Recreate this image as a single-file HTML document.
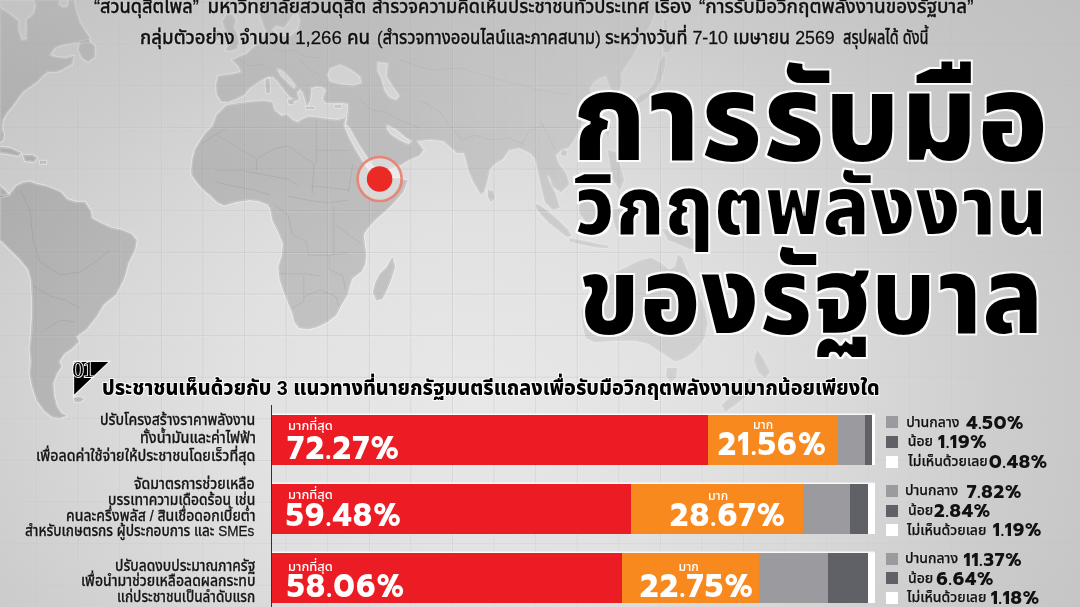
<!DOCTYPE html>
<html lang="th"><head><meta charset="utf-8">
<style>
*{margin:0;padding:0;box-sizing:border-box}
html,body{width:1080px;height:607px;overflow:hidden}
body{position:relative;background:#d8d8d8;font-family:"Noto Sans Thai","Liberation Sans",sans-serif;color:#111}
#bg{position:absolute;left:0;top:0;width:1080px;height:607px;background:radial-gradient(ellipse 700px 520px at 480px 400px,#e8e8e8 0%,#e1e1e1 35%,#d8d8d8 55%,#cdcdcd 75%,#c5c5c5 95%,#c0c0c0 115%)}
svg.map{position:absolute;left:0;top:0}
.abs{position:absolute;white-space:nowrap;line-height:1}
.sx{display:inline-block;transform-origin:0 0}
.top{color:#111;-webkit-text-stroke:0.35px #111;text-shadow:0 0 2px rgba(255,255,255,.75)}
.title{font-weight:900;color:#000;filter:url(#ttl)}
.head{font-weight:800;color:#000;-webkit-text-stroke:2px rgba(255,255,255,.9);paint-order:stroke fill}
.lbl{color:#151515;-webkit-text-stroke:0.3px #151515;text-shadow:0 0 2px rgba(255,255,255,.75)}
.bar{position:absolute;left:272px;width:602.8px;height:50px;display:flex;box-shadow:0 -1.5px 0 rgba(255,255,255,.8)}
.bar div{height:100%;flex:none}
.r{background:#ec1c24}.o{background:#f7891f}.g1{background:#9b9b9f}.g2{background:#5f6166}.w{background:#fff}
.bt{color:#fff}
.num{font-family:"Prompt","Kanit",sans-serif;font-weight:600;color:#fff;letter-spacing:1.8px}
.sq{position:absolute;left:885.7px;width:12px;height:12px}
.lg{color:#111;-webkit-text-stroke:0.25px #111;text-shadow:0 0 2px rgba(255,255,255,.6)}
.lv{font-family:"Prompt","Kanit",sans-serif;font-weight:600;color:#111;letter-spacing:.75px}
</style></head><body>
<div id="bg"></div>
<svg class="map" width="1080" height="607" viewBox="0 0 1080 607">
<defs>
<linearGradient id="fadeg" x1="0" y1="0" x2="0" y2="607" gradientUnits="userSpaceOnUse">
<stop offset="0" stop-color="#fff" stop-opacity="0.45"/>
<stop offset="0.28" stop-color="#fff" stop-opacity="1"/>
</linearGradient>
<mask id="fade" maskUnits="userSpaceOnUse" x="0" y="0" width="1080" height="607"><rect x="0" y="0" width="1080" height="607" fill="url(#fadeg)"/></mask>
<linearGradient id="fadeh" x1="0" y1="0" x2="1080" y2="0" gradientUnits="userSpaceOnUse">
<stop offset="0.355" stop-color="#fff" stop-opacity="1"/>
<stop offset="0.435" stop-color="#fff" stop-opacity="0.78"/>
<stop offset="0.555" stop-color="#fff" stop-opacity="0.56"/>
<stop offset="0.74" stop-color="#fff" stop-opacity="0.5"/>
</linearGradient>
<mask id="fadeH" maskUnits="userSpaceOnUse" x="0" y="0" width="1080" height="607"><rect x="0" y="0" width="1080" height="607" fill="url(#fadeh)"/></mask>
<radialGradient id="gridg" cx="450" cy="330" r="540" gradientUnits="userSpaceOnUse" gradientTransform="translate(450 330) scale(1 0.8) translate(-450 -330)">
<stop offset="0.3" stop-color="#fff" stop-opacity="1"/>
<stop offset="0.7" stop-color="#fff" stop-opacity="0.5"/>
<stop offset="1" stop-color="#fff" stop-opacity="0.15"/>
</radialGradient>
<mask id="gridm" maskUnits="userSpaceOnUse" x="0" y="0" width="1080" height="607"><rect x="0" y="0" width="1080" height="607" fill="url(#gridg)"/></mask>
</defs>
<g mask="url(#fade)"><g mask="url(#fadeH)">
<g fill="none" stroke="#fff" stroke-opacity="0.45" stroke-width="2.4" stroke-linejoin="round"><path d="M74,398 L80,397 L84,399 L80,402 L75,401.5Z"/><path d="M662,44 L668,40 L674,44 L670,52 L664,52Z"/><path d="M664,20 L667,20 L668,35 L665,36Z"/><path d="M266,79 L269,79 L270,86 L269.5,93 L266.5,93 L265.5,86Z"/><path d="M288,100 L295,99 L293,104 L289,104Z"/><path d="M306,107 L314,107 L314,108.8 L306,108.8Z"/><path d="M335,105.5 L341,105 L340.5,107.5 L335,107.5Z"/><path d="M0,0 L74,0 L76,10 L80,22 L86,32 L90,38 L89,42 L75,43 L62,45 L55,48 L50,55 L56,57 L65,58 L74,56 L72,64 L62,70 L56,72 L48,72 L43,76 L37,82 L30,87 L23,92 L18,99 L13,106 L7,113 L3,120 L2,128 L4,135 L3,140 L0,142ZM0,0 L34.6,0 L35.8,6.9 L33.4,13.8 L26.5,19.6 L26.5,39 L22,40 L18.5,30 L18.5,20.8 L14,17.3 L7,11.5 L0,8ZM58.8,0 L69.2,0 L67,6.9 L62,7 L59,4Z"/><path d="M80,42 L88,40 L95,46 L95,57 L88,62 L82,58 L78,50Z"/><path d="M0,147 L10,148 L21,153 L18,156 L8,154 L0,153Z"/><path d="M23,155 L33,155 L37,158 L34,162 L25,161Z"/><path d="M40,161 L46,161 L46,163.5 L40,163.5Z"/><path d="M0,186 L5,190 L9,195 L0,197Z"/><path d="M0,196 L9,195 L16,186 L23,182.6 L30,181.5 L37,184 L46,186 L55,189.5 L61,192 L67,199 L76,202 L85,202 L91,211 L92,218 L101,223 L111,227.6 L122,230 L131.7,234 L136.6,240 L135,250 L128.4,263 L125,276 L123.5,280 L116,294.8 L103.7,304.7 L96.3,317 L86.4,329.4 L76.5,336.8 L79,341.7 L71.6,349.1 L64.2,354.1 L59.3,361.5 L61.7,366.4 L56.8,373.8 L53.1,383.7 L54.3,396 L56.8,405.9 L61.7,413.3 L66.7,415.8 L59.3,418.3 L51.9,417 L44.4,410.9 L37,401 L32.1,386.2 L29.6,373.8 L30.9,361.5 L29.6,349.1 L30.9,336.8 L32.1,317 L32.1,299.8 L30.9,280 L28,269.5 L19.8,259.6 L9.9,249.8 L3.3,243.2 L0,240Z"/><path d="M255,0 L258,10 L262,22 L266,32 L262,38 L258,44 L252,48 L246,54 L238,57 L232,60 L238,66 L241,72 L232,74 L218,76 L216,85 L217,95 L221,101.5 L228,102 L236,99 L244,95 L250,88 L256,84 L262,80 L268,77 L273,77 L278,82 L284,90 L290,97 L296,101 L299,99 L297,93 L300,89 L303,93 L305,99 L307,106 L310,101 L311,94 L311,88 L316,86.5 L322,87 L326,90 L324,95 L323,100 L326,103 L336,103 L344,103 L348,104 L348,110 L347,120 L346,124 L350,128 L356,139 L362,149 L368,158 L373,166 L378,170 L390,169 L401,165 L409,160 L419.6,155.4 L423.6,150 L417,141 L430,139.6 L443,141 L450,147 L457,153 L464,153 L466,160 L469,172 L474,183 L480.8,194.6 L484,192 L487,182 L489.7,169.3 L496,163 L503,159 L509,150 L519,148 L529.5,152.8 L534.8,158 L537.4,168.6 L540.1,181.8 L542.7,192.3 L545.3,202.8 L553,210 L559.6,207.6 L555.6,193.7 L549.7,181.9 L547,176 L549.3,176.5 L553.2,187 L561.1,192.3 L569.1,184.4 L566.4,173.8 L558.5,163.3 L555.9,155.4 L561.1,150.1 L569.1,147.5 L574.3,139.6 L579.6,129.1 L583.5,118.5 L587.5,102.7 L592,95 L590,88 L594,82 L600,78 L606,76 L608,82 L610,88 L614,92 L620,90 L622,82 L621,74 L626,66 L632,58 L636,50 L640,42 L645,34 L650,26 L654,16 L658,8 L662,0ZM330,68.4 L340.5,64.5 L351.1,69.8 L360.3,76.4 L361.6,82.9 L353.7,85.6 L340.5,84.3 L330,81.6 L327,75ZM377.4,61.9 L388,63.2 L386.7,76.4 L393.3,86.9 L399.8,96.1 L395.9,100.1 L389.3,97.4 L384,89.5 L381.4,79 L377.4,71.1ZM386.7,125.1 L395.9,129.1 L405.1,137 L412,141 L409,144 L406.4,143.6 L398.5,139.6 L390.6,134.3 L386.7,129.1ZM272,30 L280,36 L290,36 L298,30 L300,20 L296,10 L290,20 L284,28 L276,26ZM277,69 L282,70 L290,78 L296,86 L294,88.5 L287,82 L280,75Z"/><path d="M226,15 L232,14 L236,20 L234,27 L237,33 L239,42 L237,49 L230,51 L225,50 L229,44 L228,36 L225,29 L222,22Z"/><path d="M214,31 L220,30 L221,38 L215,41 L213,36Z"/><path d="M226,105.4 L239.9,103.1 L249.2,102 L263,100.7 L272.2,102 L274.5,110 L281.4,115.7 L287,114.5 L292.3,119.6 L297.3,122.2 L303,118.8 L308.8,116.5 L318,117.6 L326.1,118.8 L337.6,120 L345.7,117.6 L348,113 L345.5,118 L344,126 L349,138 L355,149 L361,159 L367,168 L373,174 L380,177 L390,178 L399,178 L407.5,180.7 L403,192.2 L393.7,203 L384.5,212 L375.3,220 L368,228 L364,234 L363.7,237 L364.9,246.1 L366.1,255.3 L364.9,264.6 L361.4,271.5 L352.2,278.4 L349.9,285.3 L347.6,294.5 L340.7,306.1 L336.1,315.3 L326.9,322.2 L317.6,326.8 L308.4,329.1 L299.2,328 L294.6,322.2 L292.3,313 L287.7,301.4 L283.1,289.9 L279.6,278.4 L278.4,266.9 L281.9,255.3 L283.1,243.8 L278.4,232.3 L272.7,220.7 L270.4,209.2 L267.6,204.5 L258.4,201 L249.2,199.9 L235.3,202.2 L223.8,205.6 L216.9,202.2 L210,195.3 L201.9,188.4 L196.1,181.4 L191.5,174.5 L191.5,167.6 L192.7,158.4 L195,149.2 L200.7,139.9 L205.4,133 L212.3,126.1 L216.9,114.6Z"/><path d="M392.6,257.6 L394.9,266.9 L391.4,278.4 L386.8,289.9 L382.2,299.1 L376.4,300.3 L373,292.2 L375.3,283 L379.9,273.8 L386.8,266.9 L391.4,258.8Z"/><path d="M536.8,203.6 L545.7,209.6 L557.6,219.4 L567.5,229.3 L571.4,235.3 L567.5,237.2 L559.6,231.3 L549.7,223.4 L541.8,215.5 L535.8,207.6Z"/><path d="M569.4,238.2 L585.3,241.2 L599.1,244.2 L609,246.1 L607,248.1 L595.2,247.1 L581.3,244.2 L569.4,241.2Z"/><path d="M579.3,197.7 L591.2,191.8 L603.1,187.8 L607,201.6 L605,215.5 L599.1,225.4 L587.2,223.4 L579.3,213.5Z"/><path d="M612,210 L625,208 L618,216 L624,226 L618,234 L614,222Z"/><path d="M662,229 L675,230 L688,236 L700,242 L700,250 L690,249 L678,244 L668,240Z"/><path d="M608,150 L616,152 L620,165 L624,180 L620,190 L612,178 L610,165Z"/><path d="M604.6,120 L608,116 L611,125 L608,137 L604,130Z"/><path d="M488,190 L493,191 L495,198 L491,202 L488,197Z"/><path d="M635,100 L640,95 L647,92 L652,86 L656,78 L658,68 L660,60 L664,55 L666,60 L664,70 L661,80 L657,88 L650,96 L642,102 L637,105Z"/><path d="M562,150 L567,151 L566,156 L561,155Z"/><path d="M621.5,269.6 L639.3,260.8 L651.2,257.8 L660,262.2 L668.9,269.6 L674.9,266.7 L677.8,254.8 L682.3,257.8 L686.7,269.6 L692.7,281.5 L698.6,293.4 L704.5,308.2 L707.5,323 L704.5,337.8 L698.6,346.7 L692.7,352.7 L683.8,358.6 L674.9,361.6 L666,355.6 L657.1,349.7 L648.2,343.8 L636.3,340.8 L624.5,340.8 L609.6,340.8 L594.8,342.3 L585.9,337.8 L583,326 L581.5,311.2 L585.9,299.3 L597.8,284.5 L609.6,275.6Z"/><path d="M667,368 L677,368 L676,378 L670,382 L666,375Z"/><path d="M757,350 L763,358 L770,372 L765,378 L758,372 L754,360Z"/><path d="M750,378 L757,385 L748,395 L735,405 L725,412 L722,405 L732,395 L742,385Z"/></g>
<g fill="#000" fill-opacity="0.145" fill-rule="evenodd" stroke="#000" stroke-opacity="0.1" stroke-width="0.7" stroke-linejoin="round"><path d="M74,398 L80,397 L84,399 L80,402 L75,401.5Z"/><path d="M662,44 L668,40 L674,44 L670,52 L664,52Z"/><path d="M664,20 L667,20 L668,35 L665,36Z"/><path d="M266,79 L269,79 L270,86 L269.5,93 L266.5,93 L265.5,86Z"/><path d="M288,100 L295,99 L293,104 L289,104Z"/><path d="M306,107 L314,107 L314,108.8 L306,108.8Z"/><path d="M335,105.5 L341,105 L340.5,107.5 L335,107.5Z"/><path d="M0,0 L74,0 L76,10 L80,22 L86,32 L90,38 L89,42 L75,43 L62,45 L55,48 L50,55 L56,57 L65,58 L74,56 L72,64 L62,70 L56,72 L48,72 L43,76 L37,82 L30,87 L23,92 L18,99 L13,106 L7,113 L3,120 L2,128 L4,135 L3,140 L0,142ZM0,0 L34.6,0 L35.8,6.9 L33.4,13.8 L26.5,19.6 L26.5,39 L22,40 L18.5,30 L18.5,20.8 L14,17.3 L7,11.5 L0,8ZM58.8,0 L69.2,0 L67,6.9 L62,7 L59,4Z"/><path d="M80,42 L88,40 L95,46 L95,57 L88,62 L82,58 L78,50Z"/><path d="M0,147 L10,148 L21,153 L18,156 L8,154 L0,153Z"/><path d="M23,155 L33,155 L37,158 L34,162 L25,161Z"/><path d="M40,161 L46,161 L46,163.5 L40,163.5Z"/><path d="M0,186 L5,190 L9,195 L0,197Z"/><path d="M0,196 L9,195 L16,186 L23,182.6 L30,181.5 L37,184 L46,186 L55,189.5 L61,192 L67,199 L76,202 L85,202 L91,211 L92,218 L101,223 L111,227.6 L122,230 L131.7,234 L136.6,240 L135,250 L128.4,263 L125,276 L123.5,280 L116,294.8 L103.7,304.7 L96.3,317 L86.4,329.4 L76.5,336.8 L79,341.7 L71.6,349.1 L64.2,354.1 L59.3,361.5 L61.7,366.4 L56.8,373.8 L53.1,383.7 L54.3,396 L56.8,405.9 L61.7,413.3 L66.7,415.8 L59.3,418.3 L51.9,417 L44.4,410.9 L37,401 L32.1,386.2 L29.6,373.8 L30.9,361.5 L29.6,349.1 L30.9,336.8 L32.1,317 L32.1,299.8 L30.9,280 L28,269.5 L19.8,259.6 L9.9,249.8 L3.3,243.2 L0,240Z"/><path d="M255,0 L258,10 L262,22 L266,32 L262,38 L258,44 L252,48 L246,54 L238,57 L232,60 L238,66 L241,72 L232,74 L218,76 L216,85 L217,95 L221,101.5 L228,102 L236,99 L244,95 L250,88 L256,84 L262,80 L268,77 L273,77 L278,82 L284,90 L290,97 L296,101 L299,99 L297,93 L300,89 L303,93 L305,99 L307,106 L310,101 L311,94 L311,88 L316,86.5 L322,87 L326,90 L324,95 L323,100 L326,103 L336,103 L344,103 L348,104 L348,110 L347,120 L346,124 L350,128 L356,139 L362,149 L368,158 L373,166 L378,170 L390,169 L401,165 L409,160 L419.6,155.4 L423.6,150 L417,141 L430,139.6 L443,141 L450,147 L457,153 L464,153 L466,160 L469,172 L474,183 L480.8,194.6 L484,192 L487,182 L489.7,169.3 L496,163 L503,159 L509,150 L519,148 L529.5,152.8 L534.8,158 L537.4,168.6 L540.1,181.8 L542.7,192.3 L545.3,202.8 L553,210 L559.6,207.6 L555.6,193.7 L549.7,181.9 L547,176 L549.3,176.5 L553.2,187 L561.1,192.3 L569.1,184.4 L566.4,173.8 L558.5,163.3 L555.9,155.4 L561.1,150.1 L569.1,147.5 L574.3,139.6 L579.6,129.1 L583.5,118.5 L587.5,102.7 L592,95 L590,88 L594,82 L600,78 L606,76 L608,82 L610,88 L614,92 L620,90 L622,82 L621,74 L626,66 L632,58 L636,50 L640,42 L645,34 L650,26 L654,16 L658,8 L662,0ZM330,68.4 L340.5,64.5 L351.1,69.8 L360.3,76.4 L361.6,82.9 L353.7,85.6 L340.5,84.3 L330,81.6 L327,75ZM377.4,61.9 L388,63.2 L386.7,76.4 L393.3,86.9 L399.8,96.1 L395.9,100.1 L389.3,97.4 L384,89.5 L381.4,79 L377.4,71.1ZM386.7,125.1 L395.9,129.1 L405.1,137 L412,141 L409,144 L406.4,143.6 L398.5,139.6 L390.6,134.3 L386.7,129.1ZM272,30 L280,36 L290,36 L298,30 L300,20 L296,10 L290,20 L284,28 L276,26ZM277,69 L282,70 L290,78 L296,86 L294,88.5 L287,82 L280,75Z"/><path d="M226,15 L232,14 L236,20 L234,27 L237,33 L239,42 L237,49 L230,51 L225,50 L229,44 L228,36 L225,29 L222,22Z"/><path d="M214,31 L220,30 L221,38 L215,41 L213,36Z"/><path d="M226,105.4 L239.9,103.1 L249.2,102 L263,100.7 L272.2,102 L274.5,110 L281.4,115.7 L287,114.5 L292.3,119.6 L297.3,122.2 L303,118.8 L308.8,116.5 L318,117.6 L326.1,118.8 L337.6,120 L345.7,117.6 L348,113 L345.5,118 L344,126 L349,138 L355,149 L361,159 L367,168 L373,174 L380,177 L390,178 L399,178 L407.5,180.7 L403,192.2 L393.7,203 L384.5,212 L375.3,220 L368,228 L364,234 L363.7,237 L364.9,246.1 L366.1,255.3 L364.9,264.6 L361.4,271.5 L352.2,278.4 L349.9,285.3 L347.6,294.5 L340.7,306.1 L336.1,315.3 L326.9,322.2 L317.6,326.8 L308.4,329.1 L299.2,328 L294.6,322.2 L292.3,313 L287.7,301.4 L283.1,289.9 L279.6,278.4 L278.4,266.9 L281.9,255.3 L283.1,243.8 L278.4,232.3 L272.7,220.7 L270.4,209.2 L267.6,204.5 L258.4,201 L249.2,199.9 L235.3,202.2 L223.8,205.6 L216.9,202.2 L210,195.3 L201.9,188.4 L196.1,181.4 L191.5,174.5 L191.5,167.6 L192.7,158.4 L195,149.2 L200.7,139.9 L205.4,133 L212.3,126.1 L216.9,114.6Z"/><path d="M392.6,257.6 L394.9,266.9 L391.4,278.4 L386.8,289.9 L382.2,299.1 L376.4,300.3 L373,292.2 L375.3,283 L379.9,273.8 L386.8,266.9 L391.4,258.8Z"/><path d="M536.8,203.6 L545.7,209.6 L557.6,219.4 L567.5,229.3 L571.4,235.3 L567.5,237.2 L559.6,231.3 L549.7,223.4 L541.8,215.5 L535.8,207.6Z"/><path d="M569.4,238.2 L585.3,241.2 L599.1,244.2 L609,246.1 L607,248.1 L595.2,247.1 L581.3,244.2 L569.4,241.2Z"/><path d="M579.3,197.7 L591.2,191.8 L603.1,187.8 L607,201.6 L605,215.5 L599.1,225.4 L587.2,223.4 L579.3,213.5Z"/><path d="M612,210 L625,208 L618,216 L624,226 L618,234 L614,222Z"/><path d="M662,229 L675,230 L688,236 L700,242 L700,250 L690,249 L678,244 L668,240Z"/><path d="M608,150 L616,152 L620,165 L624,180 L620,190 L612,178 L610,165Z"/><path d="M604.6,120 L608,116 L611,125 L608,137 L604,130Z"/><path d="M488,190 L493,191 L495,198 L491,202 L488,197Z"/><path d="M635,100 L640,95 L647,92 L652,86 L656,78 L658,68 L660,60 L664,55 L666,60 L664,70 L661,80 L657,88 L650,96 L642,102 L637,105Z"/><path d="M562,150 L567,151 L566,156 L561,155Z"/><path d="M621.5,269.6 L639.3,260.8 L651.2,257.8 L660,262.2 L668.9,269.6 L674.9,266.7 L677.8,254.8 L682.3,257.8 L686.7,269.6 L692.7,281.5 L698.6,293.4 L704.5,308.2 L707.5,323 L704.5,337.8 L698.6,346.7 L692.7,352.7 L683.8,358.6 L674.9,361.6 L666,355.6 L657.1,349.7 L648.2,343.8 L636.3,340.8 L624.5,340.8 L609.6,340.8 L594.8,342.3 L585.9,337.8 L583,326 L581.5,311.2 L585.9,299.3 L597.8,284.5 L609.6,275.6Z"/><path d="M667,368 L677,368 L676,378 L670,382 L666,375Z"/><path d="M757,350 L763,358 L770,372 L765,378 L758,372 L754,360Z"/><path d="M750,378 L757,385 L748,395 L735,405 L725,412 L722,405 L732,395 L742,385Z"/></g>
<g fill="none" stroke="#000" stroke-opacity="0.09" stroke-width="0.8" stroke-linejoin="round"><polyline points="215.7,134.3 256.4,158.9 256.4,170.7"/><polyline points="256.4,158.9 275.6,148.2 288.5,146 314.2,164.2"/><polyline points="316.3,119 316.3,164.2"/><polyline points="316.3,150.3 348,150.3"/><polyline points="314.2,164.2 312,194"/><polyline points="254.2,172.8 275.6,177 288.5,179.2 297,185"/><polyline points="214,170.6 243.5,170.6 254.2,172.8"/><polyline points="203,143 215.7,134.3 226,128"/><polyline points="352.7,164.2 348.4,192"/><polyline points="309.9,185.6 348.4,189.9"/><polyline points="288.5,196.3 309.9,200.6 329.2,202.8 348,200"/><polyline points="216,182 233,186 254,190 270,195"/><polyline points="292.3,234.6 306.1,241.5 308.4,255.3 329.2,255.3 347.6,253"/><polyline points="278.4,273.8 306.1,273.8 320,276.1"/><polyline points="303.8,276 303.8,301.4 292.3,308.4"/><polyline points="303.8,296.8 320,289.9 336.1,296.8 338.4,306"/><polyline points="329.2,255.3 329.2,269.2 343,276.1 345.3,290"/><polyline points="336.1,225.4 361.4,243.8"/><polyline points="333.8,206.9 333.8,255.3"/><polyline points="275,205 288,215 292.3,234.6"/><polyline points="20,190 30,210 33,240 40,262 60,275 80,272 95,262 110,250"/><polyline points="33,286 50,296 65,300 80,308"/><polyline points="45,330 60,320 75,322"/><polyline points="240,60 250,66 262,64 270,70"/><polyline points="270,40 280,52 292,50 305,56 320,58"/><polyline points="300,60 310,70 320,75"/><polyline points="360,100 372,110 385,112 400,120 420,128"/><polyline points="420,100 440,112 452,128 462,140"/><polyline points="462,140 475,135 490,140 510,138 525,145"/><polyline points="400,60 430,70 460,68 500,80 540,90 570,95"/><polyline points="540,120 548,135 555,150"/><polyline points="520,148 530,130 545,125"/></g>
</g></g>
<g mask="url(#gridm)"><g stroke="#000" stroke-opacity="0.07" stroke-width="1"><line x1="36.64" y1="0" x2="36.64" y2="607"/><line x1="78.23" y1="0" x2="78.23" y2="607"/><line x1="119.82" y1="0" x2="119.82" y2="607"/><line x1="161.41" y1="0" x2="161.41" y2="607"/><line x1="203.00" y1="0" x2="203.00" y2="607"/><line x1="244.59" y1="0" x2="244.59" y2="607"/><line x1="286.18" y1="0" x2="286.18" y2="607"/><line x1="327.77" y1="0" x2="327.77" y2="607"/><line x1="369.36" y1="0" x2="369.36" y2="607"/><line x1="410.95" y1="0" x2="410.95" y2="607"/><line x1="452.54" y1="0" x2="452.54" y2="607"/><line x1="494.13" y1="0" x2="494.13" y2="607"/><line x1="535.72" y1="0" x2="535.72" y2="607"/><line x1="577.31" y1="0" x2="577.31" y2="607"/><line x1="618.90" y1="0" x2="618.90" y2="607"/><line x1="660.49" y1="0" x2="660.49" y2="607"/><line x1="702.08" y1="0" x2="702.08" y2="607"/><line x1="743.67" y1="0" x2="743.67" y2="607"/><line x1="785.26" y1="0" x2="785.26" y2="607"/><line x1="826.85" y1="0" x2="826.85" y2="607"/><line x1="868.44" y1="0" x2="868.44" y2="607"/><line x1="910.03" y1="0" x2="910.03" y2="607"/><line x1="951.62" y1="0" x2="951.62" y2="607"/><line x1="993.21" y1="0" x2="993.21" y2="607"/><line x1="1034.80" y1="0" x2="1034.80" y2="607"/><line x1="1076.39" y1="0" x2="1076.39" y2="607"/><line x1="0" y1="2.63" x2="1080" y2="2.63"/><line x1="0" y1="44.26" x2="1080" y2="44.26"/><line x1="0" y1="85.89" x2="1080" y2="85.89"/><line x1="0" y1="127.52" x2="1080" y2="127.52"/><line x1="0" y1="169.15" x2="1080" y2="169.15"/><line x1="0" y1="210.78" x2="1080" y2="210.78"/><line x1="0" y1="252.41" x2="1080" y2="252.41"/><line x1="0" y1="294.04" x2="1080" y2="294.04"/><line x1="0" y1="335.67" x2="1080" y2="335.67"/><line x1="0" y1="377.30" x2="1080" y2="377.30"/><line x1="0" y1="418.93" x2="1080" y2="418.93"/><line x1="0" y1="460.56" x2="1080" y2="460.56"/><line x1="0" y1="502.19" x2="1080" y2="502.19"/><line x1="0" y1="543.82" x2="1080" y2="543.82"/><line x1="0" y1="585.45" x2="1080" y2="585.45"/></g>
<g stroke="#fff" stroke-opacity="0.15" stroke-width="1"><line x1="37.64" y1="0" x2="37.64" y2="607"/><line x1="79.23" y1="0" x2="79.23" y2="607"/><line x1="120.82" y1="0" x2="120.82" y2="607"/><line x1="162.41" y1="0" x2="162.41" y2="607"/><line x1="204.00" y1="0" x2="204.00" y2="607"/><line x1="245.59" y1="0" x2="245.59" y2="607"/><line x1="287.18" y1="0" x2="287.18" y2="607"/><line x1="328.77" y1="0" x2="328.77" y2="607"/><line x1="370.36" y1="0" x2="370.36" y2="607"/><line x1="411.95" y1="0" x2="411.95" y2="607"/><line x1="453.54" y1="0" x2="453.54" y2="607"/><line x1="495.13" y1="0" x2="495.13" y2="607"/><line x1="536.72" y1="0" x2="536.72" y2="607"/><line x1="578.31" y1="0" x2="578.31" y2="607"/><line x1="619.90" y1="0" x2="619.90" y2="607"/><line x1="661.49" y1="0" x2="661.49" y2="607"/><line x1="703.08" y1="0" x2="703.08" y2="607"/><line x1="744.67" y1="0" x2="744.67" y2="607"/><line x1="786.26" y1="0" x2="786.26" y2="607"/><line x1="827.85" y1="0" x2="827.85" y2="607"/><line x1="869.44" y1="0" x2="869.44" y2="607"/><line x1="911.03" y1="0" x2="911.03" y2="607"/><line x1="952.62" y1="0" x2="952.62" y2="607"/><line x1="994.21" y1="0" x2="994.21" y2="607"/><line x1="1035.80" y1="0" x2="1035.80" y2="607"/><line x1="1077.39" y1="0" x2="1077.39" y2="607"/><line x1="0" y1="3.63" x2="1080" y2="3.63"/><line x1="0" y1="45.26" x2="1080" y2="45.26"/><line x1="0" y1="86.89" x2="1080" y2="86.89"/><line x1="0" y1="128.52" x2="1080" y2="128.52"/><line x1="0" y1="170.15" x2="1080" y2="170.15"/><line x1="0" y1="211.78" x2="1080" y2="211.78"/><line x1="0" y1="253.41" x2="1080" y2="253.41"/><line x1="0" y1="295.04" x2="1080" y2="295.04"/><line x1="0" y1="336.67" x2="1080" y2="336.67"/><line x1="0" y1="378.30" x2="1080" y2="378.30"/><line x1="0" y1="419.93" x2="1080" y2="419.93"/><line x1="0" y1="461.56" x2="1080" y2="461.56"/><line x1="0" y1="503.19" x2="1080" y2="503.19"/><line x1="0" y1="544.82" x2="1080" y2="544.82"/><line x1="0" y1="586.45" x2="1080" y2="586.45"/></g></g>
<circle cx="379.6" cy="179" r="22" fill="#fff" fill-opacity="0.42" stroke="#e9806c" stroke-opacity="0.92" stroke-width="2.6"/>
<circle cx="379.6" cy="179" r="12.8" fill="#ec2a25"/>
</svg>
<svg width="0" height="0" style="position:absolute">
<filter id="ttl" x="-10%" y="-20%" width="120%" height="140%" color-interpolation-filters="sRGB">
<feMorphology in="SourceAlpha" operator="erode" radius="0.75" result="er"/>
<feMorphology in="SourceAlpha" operator="dilate" radius="0.6" result="di"/>
<feFlood flood-color="#fff" flood-opacity="0.9"/>
<feComposite in2="di" operator="in" result="white"/>
<feFlood flood-color="#000"/>
<feComposite in2="er" operator="in" result="black"/>
<feMerge><feMergeNode in="white"/><feMergeNode in="black"/></feMerge>
</filter>
</svg>
<svg class="map" width="1080" height="607">
<polygon points="73.6,361.4 109.6,361.4 73.6,396" fill="#000" stroke="#fff" stroke-width="1.2" stroke-opacity=".9"/>
<text x="72.2" y="377" font-family="Liberation Serif,serif" font-size="23" fill="#000" stroke="#fff" stroke-width="1.8" paint-order="stroke" letter-spacing="-0.9">01</text>
</svg>
<div style="position:absolute;left:270.8px;top:405.4px;width:1.4px;height:202px;background:#333"></div>
<div class="bar" style="top:415px"><div class="r" style="width:72.27%"></div><div class="o" style="width:21.56%"></div><div class="g1" style="width:4.5%"></div><div class="g2" style="width:1.19%"></div><div class="w" style="width:0.48%"></div></div>
<div class="bar" style="top:484.2px"><div class="r" style="width:59.48%"></div><div class="o" style="width:28.67%"></div><div class="g1" style="width:7.82%"></div><div class="g2" style="width:2.84%"></div><div class="w" style="width:1.19%"></div></div>
<div class="bar" style="top:553.2px"><div class="r" style="width:58.06%"></div><div class="o" style="width:22.75%"></div><div class="g1" style="width:11.37%"></div><div class="g2" style="width:6.64%"></div><div class="w" style="width:1.18%"></div></div>
<div class="abs top" style="left:93.53px;top:-1.90px;font-size:18.7px;font-family:'Liberation Sans','Noto Sans Thai','Noto Sans Thai UI','Sarabun','Loma',sans-serif;font-weight:500;"><span class="sx" style="transform:scaleX(0.9673)">“สวนดุสิตโพล”</span></div>
<div class="abs top" style="left:207.50px;top:-1.90px;font-size:18.7px;font-family:'Liberation Sans','Noto Sans Thai','Noto Sans Thai UI','Sarabun','Loma',sans-serif;font-weight:500;">มหาวิทยาลัยสวนดุสิต</div>
<div class="abs top" style="left:372.23px;top:-1.90px;font-size:18.7px;font-family:'Liberation Sans','Noto Sans Thai','Noto Sans Thai UI','Sarabun','Loma',sans-serif;font-weight:500;"><span class="sx" style="transform:scaleX(0.9748)">สำรวจความคิดเห็นประชาชนทั่วประเทศ</span></div>
<div class="abs top" style="left:653.60px;top:-1.90px;font-size:18.7px;font-family:'Liberation Sans','Noto Sans Thai','Noto Sans Thai UI','Sarabun','Loma',sans-serif;font-weight:500;"><span class="sx" style="transform:scaleX(1.0515)">เรื่อง</span></div>
<div class="abs top" style="left:698.79px;top:-1.90px;font-size:18.7px;font-family:'Liberation Sans','Noto Sans Thai','Noto Sans Thai UI','Sarabun','Loma',sans-serif;font-weight:500;"><span class="sx" style="transform:scaleX(1.0052)">“การรับมือวิกฤตพลังงานของรัฐบาล”</span></div>
<div class="abs top" style="left:140.30px;top:29.20px;font-size:18.7px;font-family:'Liberation Sans','Noto Sans Thai','Noto Sans Thai UI','Sarabun','Loma',sans-serif;font-weight:500;"><span class="sx" style="transform:scaleX(0.9952)">กลุ่มตัวอย่าง จำนวน 1,266 คน</span></div>
<div class="abs top" style="left:376.61px;top:29.20px;font-size:18.7px;font-family:'Liberation Sans','Noto Sans Thai','Noto Sans Thai UI','Sarabun','Loma',sans-serif;font-weight:500;"><span class="sx" style="transform:scaleX(0.8888)">(สำรวจทางออนไลน์และภาคสนาม)</span></div>
<div class="abs top" style="left:605.35px;top:29.20px;font-size:18.7px;font-family:'Liberation Sans','Noto Sans Thai','Noto Sans Thai UI','Sarabun','Loma',sans-serif;font-weight:500;"><span class="sx" style="transform:scaleX(0.9513)">ระหว่างวันที่ 7-10 เมษายน 2569</span></div>
<div class="abs top" style="left:843.23px;top:29.20px;font-size:18.7px;font-family:'Liberation Sans','Noto Sans Thai','Noto Sans Thai UI','Sarabun','Loma',sans-serif;font-weight:500;"><span class="sx" style="transform:scaleX(0.7727)">สรุปผลได้ ดังนี้</span></div>
<div class="abs title" style="left:570.64px;top:61.20px;font-size:124px;font-family:'Noto Sans Thai','Noto Sans Thai UI','Sarabun','Loma',sans-serif;font-weight:900;"><span class="sx" style="transform:scaleX(0.9378)">การรับมือ</span></div>
<div class="abs title" style="left:574.40px;top:167.90px;font-size:83.5px;font-family:'Noto Sans Thai','Noto Sans Thai UI','Sarabun','Loma',sans-serif;font-weight:900;"><span class="sx" style="transform:scaleX(0.9225)">วิกฤตพลังงาน</span></div>
<div class="abs title" style="left:578.37px;top:245.80px;font-size:110.2px;font-family:'Noto Sans Thai','Noto Sans Thai UI','Sarabun','Loma',sans-serif;font-weight:900;"><span class="sx" style="transform:scaleX(0.9066)">ของรัฐบาล</span></div>
<div class="abs head" style="left:101.84px;top:377.80px;font-size:20.5px;font-family:'Liberation Sans','Noto Sans Thai','Noto Sans Thai UI','Sarabun','Loma',sans-serif;font-weight:800;"><span class="sx" style="transform:scaleX(0.9649)">ประชาชนเห็นด้วยกับ 3 แนวทางที่นายกรัฐมนตรีแถลงเพื่อรับมือวิกฤตพลังงานมากน้อยเพียงใด</span></div>
<div class="abs lbl" style="left:100.47px;top:412.10px;font-size:15px;font-family:'Liberation Sans','Noto Sans Thai','Noto Sans Thai UI','Sarabun','Loma',sans-serif;font-weight:500;"><span class="sx" style="transform:scaleX(0.9317)">ปรับโครงสร้างราคาพลังงาน</span></div>
<div class="abs lbl" style="left:139.65px;top:429.80px;font-size:15px;font-family:'Liberation Sans','Noto Sans Thai','Noto Sans Thai UI','Sarabun','Loma',sans-serif;font-weight:500;"><span class="sx" style="transform:scaleX(0.9546)">ทั้งน้ำมันและค่าไฟฟ้า</span></div>
<div class="abs lbl" style="left:35.65px;top:447.50px;font-size:15px;font-family:'Liberation Sans','Noto Sans Thai','Noto Sans Thai UI','Sarabun','Loma',sans-serif;font-weight:500;"><span class="sx" style="transform:scaleX(0.9502)">เพื่อลดค่าใช้จ่ายให้ประชาชนโดยเร็วที่สุด</span></div>
<div class="abs lbl" style="left:134.26px;top:476.10px;font-size:15px;font-family:'Liberation Sans','Noto Sans Thai','Noto Sans Thai UI','Sarabun','Loma',sans-serif;font-weight:500;"><span class="sx" style="transform:scaleX(0.9370)">จัดมาตรการช่วยเหลือ</span></div>
<div class="abs lbl" style="left:108.18px;top:491.80px;font-size:15px;font-family:'Liberation Sans','Noto Sans Thai','Noto Sans Thai UI','Sarabun','Loma',sans-serif;font-weight:500;"><span class="sx" style="transform:scaleX(0.9184)">บรรเทาความเดือดร้อน เช่น</span></div>
<div class="abs lbl" style="left:65.77px;top:507.50px;font-size:15px;font-family:'Liberation Sans','Noto Sans Thai','Noto Sans Thai UI','Sarabun','Loma',sans-serif;font-weight:500;"><span class="sx" style="transform:scaleX(0.9328)">คนละครึ่งพลัส / สินเชื่อดอกเบี้ยต่ำ</span></div>
<div class="abs lbl" style="left:25.20px;top:523.20px;font-size:15px;font-family:'Liberation Sans','Noto Sans Thai','Noto Sans Thai UI','Sarabun','Loma',sans-serif;font-weight:500;"><span class="sx" style="transform:scaleX(0.9016)">สำหรับเกษตรกร ผู้ประกอบการ และ SMEs</span></div>
<div class="abs lbl" style="left:114.78px;top:557.90px;font-size:15px;font-family:'Liberation Sans','Noto Sans Thai','Noto Sans Thai UI','Sarabun','Loma',sans-serif;font-weight:500;"><span class="sx" style="transform:scaleX(0.9172)">ปรับลดงบประมาณภาครัฐ</span></div>
<div class="abs lbl" style="left:81.07px;top:573.40px;font-size:15px;font-family:'Liberation Sans','Noto Sans Thai','Noto Sans Thai UI','Sarabun','Loma',sans-serif;font-weight:500;"><span class="sx" style="transform:scaleX(0.9308)">เพื่อนำมาช่วยเหลือลดผลกระทบ</span></div>
<div class="abs lbl" style="left:116.90px;top:588.90px;font-size:15px;font-family:'Liberation Sans','Noto Sans Thai','Noto Sans Thai UI','Sarabun','Loma',sans-serif;font-weight:500;"><span class="sx" style="transform:scaleX(0.8974)">แก่ประชาชนเป็นลำดับแรก</span></div>
<div class="abs bt" style="left:287.59px;top:419.80px;font-size:12.8px;font-family:'Noto Sans Thai','Noto Sans Thai UI','Sarabun','Loma',sans-serif;font-weight:500;"><span class="sx" style="transform:scaleX(1.0093)">มากที่สุด</span></div>
<div class="abs num" style="left:287.30px;top:432.60px;font-size:31.3px;font-family:'Prompt','Kanit','Liberation Sans',sans-serif;font-weight:700;letter-spacing:1.62px;">72.27%</div>
<div class="abs bt" style="left:752.90px;top:420.00px;font-size:12.3px;font-family:'Noto Sans Thai','Noto Sans Thai UI','Sarabun','Loma',sans-serif;font-weight:500;">มาก</div>
<div class="abs num" style="left:718.02px;top:429.30px;font-size:31.3px;font-family:'Prompt','Kanit','Liberation Sans',sans-serif;font-weight:700;letter-spacing:1.62px;"><span class="sx" style="transform:scaleX(0.9806)">21.56%</span></div>
<div class="abs bt" style="left:287.59px;top:488.80px;font-size:12.8px;font-family:'Noto Sans Thai','Noto Sans Thai UI','Sarabun','Loma',sans-serif;font-weight:500;"><span class="sx" style="transform:scaleX(1.0093)">มากที่สุด</span></div>
<div class="abs num" style="left:286.23px;top:499.70px;font-size:31.3px;font-family:'Prompt','Kanit','Liberation Sans',sans-serif;font-weight:700;letter-spacing:1.62px;"><span class="sx" style="transform:scaleX(0.9698)">59.48%</span></div>
<div class="abs bt" style="left:707.90px;top:490.60px;font-size:12.3px;font-family:'Noto Sans Thai','Noto Sans Thai UI','Sarabun','Loma',sans-serif;font-weight:500;">มาก</div>
<div class="abs num" style="left:670.31px;top:500.40px;font-size:31.3px;font-family:'Prompt','Kanit','Liberation Sans',sans-serif;font-weight:700;letter-spacing:1.62px;"><span class="sx" style="transform:scaleX(0.9904)">28.67%</span></div>
<div class="abs bt" style="left:287.59px;top:560.60px;font-size:12.8px;font-family:'Noto Sans Thai','Noto Sans Thai UI','Sarabun','Loma',sans-serif;font-weight:500;"><span class="sx" style="transform:scaleX(1.0093)">มากที่สุด</span></div>
<div class="abs num" style="left:286.83px;top:571.10px;font-size:31.3px;font-family:'Prompt','Kanit','Liberation Sans',sans-serif;font-weight:700;letter-spacing:1.62px;"><span class="sx" style="transform:scaleX(0.9706)">58.06%</span></div>
<div class="abs bt" style="left:678.60px;top:561.50px;font-size:12.3px;font-family:'Noto Sans Thai','Noto Sans Thai UI','Sarabun','Loma',sans-serif;font-weight:500;">มาก</div>
<div class="abs num" style="left:639.90px;top:571.10px;font-size:31.3px;font-family:'Prompt','Kanit','Liberation Sans',sans-serif;font-weight:700;letter-spacing:1.62px;">22.75%</div>
<div class="abs lg" style="left:906.20px;top:415.50px;font-size:14px;font-family:'Noto Sans Thai','Noto Sans Thai UI','Sarabun','Loma',sans-serif;font-weight:500;">ปานกลาง</div>
<div class="abs lv" style="left:966.20px;top:414.30px;font-size:18.2px;font-family:'Prompt','Kanit','Liberation Sans',sans-serif;font-weight:700;letter-spacing:0.85px;">4.50%</div>
<div class="abs lg" style="left:907.70px;top:435.00px;font-size:14px;font-family:'Noto Sans Thai','Noto Sans Thai UI','Sarabun','Loma',sans-serif;font-weight:500;">น้อย</div>
<div class="abs lv" style="left:938.00px;top:432.90px;font-size:18.2px;font-family:'Prompt','Kanit','Liberation Sans',sans-serif;font-weight:700;letter-spacing:0.85px;">1.19%</div>
<div class="abs lg" style="left:908.30px;top:455.10px;font-size:14px;font-family:'Noto Sans Thai','Noto Sans Thai UI','Sarabun','Loma',sans-serif;font-weight:500;">ไม่เห็นด้วยเลย</div>
<div class="abs lv" style="left:989.10px;top:452.50px;font-size:18.2px;font-family:'Prompt','Kanit','Liberation Sans',sans-serif;font-weight:700;letter-spacing:0.85px;">0.48%</div>
<div class="abs lg" style="left:904.90px;top:484.40px;font-size:14px;font-family:'Noto Sans Thai','Noto Sans Thai UI','Sarabun','Loma',sans-serif;font-weight:500;">ปานกลาง</div>
<div class="abs lv" style="left:966.70px;top:483.20px;font-size:18.2px;font-family:'Prompt','Kanit','Liberation Sans',sans-serif;font-weight:700;letter-spacing:0.85px;">7.82%</div>
<div class="abs lg" style="left:908.00px;top:503.90px;font-size:14px;font-family:'Noto Sans Thai','Noto Sans Thai UI','Sarabun','Loma',sans-serif;font-weight:500;">น้อย</div>
<div class="abs lv" style="left:934.00px;top:501.80px;font-size:18.2px;font-family:'Prompt','Kanit','Liberation Sans',sans-serif;font-weight:700;letter-spacing:0.85px;">2.84%</div>
<div class="abs lg" style="left:907.00px;top:523.50px;font-size:14px;font-family:'Noto Sans Thai','Noto Sans Thai UI','Sarabun','Loma',sans-serif;font-weight:500;">ไม่เห็นด้วยเลย</div>
<div class="abs lv" style="left:992.80px;top:521.40px;font-size:18.2px;font-family:'Prompt','Kanit','Liberation Sans',sans-serif;font-weight:700;letter-spacing:0.85px;">1.19%</div>
<div class="abs lg" style="left:904.90px;top:552.30px;font-size:14px;font-family:'Noto Sans Thai','Noto Sans Thai UI','Sarabun','Loma',sans-serif;font-weight:500;">ปานกลาง</div>
<div class="abs lv" style="left:963.50px;top:551.10px;font-size:18.2px;font-family:'Prompt','Kanit','Liberation Sans',sans-serif;font-weight:700;letter-spacing:0.85px;">11.37%</div>
<div class="abs lg" style="left:908.00px;top:571.80px;font-size:14px;font-family:'Noto Sans Thai','Noto Sans Thai UI','Sarabun','Loma',sans-serif;font-weight:500;">น้อย</div>
<div class="abs lv" style="left:936.30px;top:569.70px;font-size:18.2px;font-family:'Prompt','Kanit','Liberation Sans',sans-serif;font-weight:700;letter-spacing:0.85px;">6.64%</div>
<div class="abs lg" style="left:907.00px;top:591.40px;font-size:14px;font-family:'Noto Sans Thai','Noto Sans Thai UI','Sarabun','Loma',sans-serif;font-weight:500;">ไม่เห็นด้วยเลย</div>
<div class="abs lv" style="left:990.70px;top:589.30px;font-size:18.2px;font-family:'Prompt','Kanit','Liberation Sans',sans-serif;font-weight:700;letter-spacing:0.85px;">1.18%</div>
<div class="sq g1" style="top:416px"></div>
<div class="sq g2" style="top:435.9px"></div>
<div class="sq w" style="top:455.5px"></div>
<div class="sq g1" style="top:484.9px"></div>
<div class="sq g2" style="top:504.8px"></div>
<div class="sq w" style="top:524px"></div>
<div class="sq g1" style="top:552.7px"></div>
<div class="sq g2" style="top:572px"></div>
<div class="sq w" style="top:591.8px"></div>
</body></html>
